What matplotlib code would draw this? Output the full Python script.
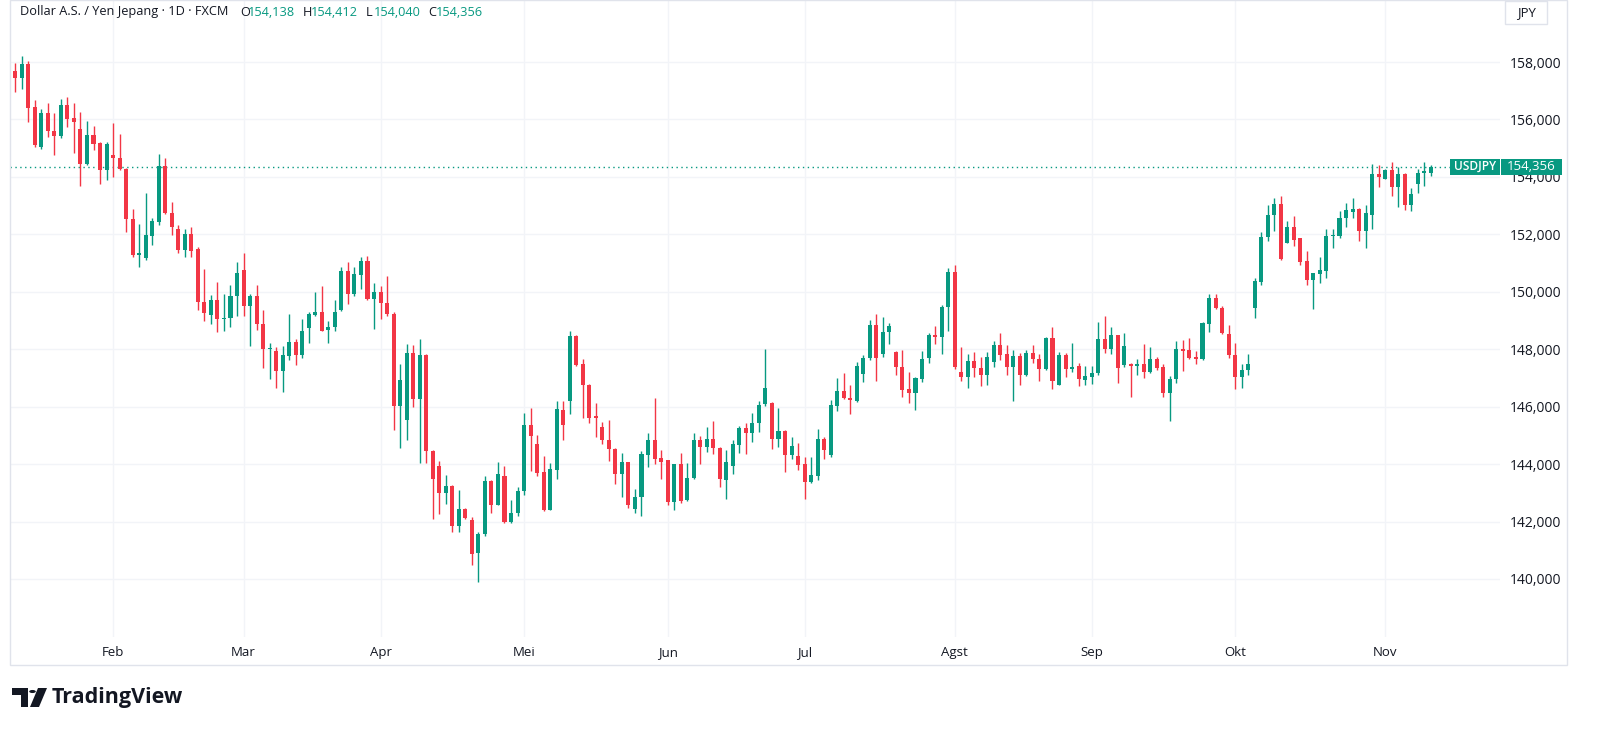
import numpy as np
import pandas as pd
import matplotlib
matplotlib.use("Agg")
import matplotlib.pyplot as plt
from matplotlib.patches import Rectangle, Circle, Polygon

# daily USD/JPY candles, 13 Jan 2025 .. 12 Nov 2025
opens = [
    157.68, 157.45, 157.93, 156.43, 155.04, 156.24, 155.60, 155.42, 156.49, 156.04,
    155.67, 154.45, 155.45, 155.18, 154.24, 154.76, 154.65, 154.28, 152.55, 151.28,
    151.17, 151.94, 152.42, 154.38, 152.76, 152.17, 151.46, 152.00, 151.50, 149.65,
    149.20, 149.70, 149.04, 149.08, 149.84, 150.76, 149.52, 149.84, 148.88, 148.00,
    147.94, 147.25, 147.76, 148.25, 147.79, 148.74, 149.20, 149.29, 148.67, 148.77,
    149.35, 150.73, 149.91, 150.58, 151.08, 149.75, 149.98, 149.61, 149.24, 146.03,
    145.53, 147.88, 146.25, 147.80, 144.46, 143.92, 143.01, 143.25, 141.85, 142.43,
    142.06, 140.89, 141.58, 143.40, 142.58, 143.57, 141.97, 142.29, 143.07, 145.35,
    144.69, 143.71, 142.41, 143.81, 145.90, 146.19, 148.45, 147.49, 146.75, 145.67,
    145.28, 144.85, 144.53, 143.66, 144.06, 142.44, 142.87, 144.32, 144.83, 144.20,
    144.14, 142.67, 144.00, 142.75, 143.51, 144.83, 144.60, 144.88, 144.57, 143.45,
    143.94, 144.67, 145.26, 145.09, 145.43, 146.11, 146.14, 144.88, 145.17, 144.33,
    144.29, 144.00, 143.36, 143.60, 144.88, 144.31, 146.02, 146.54, 146.31, 146.19,
    147.13, 147.68, 148.86, 147.85, 148.59, 147.91, 147.39, 146.60, 146.49, 146.97,
    147.70, 148.50, 148.44, 149.46, 150.70, 147.20, 147.05, 147.59, 147.36, 147.09,
    147.56, 148.13, 147.85, 147.37, 147.76, 147.11, 147.87, 147.65, 147.30, 148.39,
    146.77, 147.79, 147.31, 147.41, 146.93, 147.05, 147.18, 148.34, 148.00, 148.48,
    147.46, 147.48, 147.43, 147.48, 147.20, 147.66, 147.37, 146.48, 146.98, 148.00,
    147.97, 147.74, 147.65, 148.89, 149.80, 149.45, 148.53, 147.80, 147.05, 147.27,
    149.43, 150.34, 151.90, 152.67, 153.07, 151.70, 152.27, 151.86, 151.07, 150.42,
    150.63, 150.73, 151.93, 151.95, 152.56, 152.77, 152.89, 152.10, 152.69, 154.11,
    153.94, 154.25, 153.64, 154.11, 153.03, 153.75, 154.15, 154.138,
]
highs = [
    157.97, 158.20, 158.05, 156.69, 156.36, 156.59, 156.22, 156.72, 156.78, 156.59,
    156.25, 155.95, 155.79, 155.21, 155.21, 155.86, 155.51, 154.30, 152.88, 152.36,
    153.44, 152.56, 154.80, 154.65, 153.14, 152.32, 152.20, 152.27, 151.55, 150.80,
    149.88, 150.35, 149.93, 150.24, 151.02, 151.35, 149.93, 150.22, 149.35, 148.20,
    148.08, 148.11, 149.23, 148.37, 149.04, 149.31, 149.99, 150.20, 148.97, 149.70,
    150.87, 151.02, 150.87, 151.20, 151.25, 150.31, 150.19, 150.56, 149.30, 147.50,
    148.17, 148.14, 148.34, 147.85, 144.50, 144.12, 143.61, 143.28, 143.11, 142.47,
    142.15, 141.65, 143.60, 143.43, 144.06, 143.92, 142.76, 143.20, 145.78, 145.96,
    145.03, 144.29, 144.03, 146.21, 146.19, 148.65, 148.48, 147.66, 146.78, 146.12,
    145.47, 145.53, 144.56, 144.40, 144.08, 143.12, 144.45, 145.10, 146.30, 144.48,
    144.16, 144.02, 144.40, 144.03, 145.10, 144.99, 145.30, 145.50, 144.59, 144.48,
    144.85, 145.34, 145.42, 145.77, 146.19, 148.02, 146.16, 145.97, 145.19, 144.96,
    144.73, 144.25, 144.25, 145.22, 144.94, 146.22, 146.99, 147.17, 146.77, 147.54,
    147.79, 149.03, 149.22, 149.11, 148.91, 147.93, 147.96, 147.22, 147.03, 147.94,
    148.58, 148.81, 149.55, 150.82, 150.93, 148.07, 147.82, 147.90, 147.73, 147.90,
    148.27, 148.55, 148.16, 147.96, 147.87, 147.96, 148.13, 147.82, 148.44, 148.78,
    147.90, 147.87, 148.21, 147.52, 147.43, 147.41, 148.96, 149.15, 148.78, 148.50,
    148.57, 147.52, 147.66, 148.19, 148.08, 147.74, 147.50, 147.07, 148.28, 148.31,
    148.39, 147.95, 148.96, 149.94, 149.94, 149.49, 148.85, 148.23, 147.50, 147.82,
    150.48, 152.07, 153.03, 153.26, 153.32, 152.47, 152.64, 151.88, 151.42, 150.67,
    151.22, 152.18, 152.18, 152.81, 153.09, 153.26, 152.91, 153.03, 154.45, 154.42,
    154.28, 154.51, 154.34, 154.13, 153.60, 154.26, 154.53, 154.412,
]
lows = [
    156.94, 157.06, 155.90, 155.05, 154.96, 155.39, 154.76, 155.34, 155.73, 154.82,
    153.70, 154.42, 154.92, 153.77, 153.90, 153.99, 154.24, 152.07, 151.22, 150.88,
    151.11, 151.62, 152.31, 152.72, 151.97, 151.34, 151.22, 151.22, 149.37, 148.97,
    148.88, 148.59, 148.65, 148.79, 149.15, 149.15, 148.11, 148.67, 147.33, 146.95,
    146.64, 146.50, 147.64, 147.44, 147.70, 148.23, 149.15, 148.62, 148.20, 148.62,
    149.33, 149.58, 149.84, 150.10, 149.70, 148.72, 149.05, 149.16, 145.20, 144.57,
    144.85, 146.00, 144.05, 144.04, 142.08, 142.25, 142.62, 141.65, 141.63, 142.08,
    140.50, 139.90, 141.50, 142.29, 142.56, 141.95, 141.95, 142.18, 142.92, 143.75,
    143.57, 142.37, 142.39, 143.49, 144.85, 145.73, 147.40, 145.62, 145.44, 144.96,
    144.71, 144.11, 143.30, 142.87, 142.47, 142.30, 142.19, 143.89, 144.00, 143.49,
    142.58, 142.41, 142.64, 142.72, 143.49, 144.00, 144.42, 144.34, 143.21, 142.79,
    143.66, 144.37, 144.34, 144.77, 145.11, 146.02, 144.54, 144.59, 143.74, 144.19,
    143.79, 142.77, 143.34, 143.43, 144.19, 144.25, 145.85, 146.25, 145.76, 146.17,
    146.86, 147.62, 146.90, 147.74, 148.19, 147.11, 146.35, 146.12, 145.90, 146.85,
    147.51, 148.19, 147.82, 148.62, 147.30, 146.88, 146.66, 147.03, 146.71, 146.74,
    147.39, 147.62, 147.11, 146.20, 146.77, 147.08, 147.51, 146.88, 147.28, 146.60,
    146.74, 147.02, 147.22, 146.71, 146.75, 146.79, 147.09, 147.88, 147.83, 146.84,
    147.38, 146.34, 147.09, 147.01, 147.18, 147.27, 146.34, 145.50, 146.82, 147.24,
    147.65, 147.50, 147.61, 148.59, 149.41, 148.53, 147.69, 146.62, 146.64, 147.09,
    149.10, 150.25, 151.78, 152.13, 151.10, 151.69, 151.61, 150.93, 150.22, 149.40,
    150.31, 150.48, 151.53, 151.88, 152.26, 152.56, 151.78, 151.53, 152.18, 153.66,
    153.92, 153.32, 152.95, 152.86, 152.83, 153.43, 153.69, 154.040,
]
closes = [
    157.45, 157.94, 156.40, 155.10, 156.24, 155.59, 155.43, 156.49, 156.02, 155.90,
    154.45, 155.45, 155.16, 154.24, 155.14, 154.65, 154.28, 152.53, 151.28, 151.34,
    151.97, 152.46, 154.38, 152.75, 152.25, 151.46, 152.00, 151.43, 149.63, 149.26,
    149.70, 149.04, 149.08, 149.85, 150.65, 149.52, 149.84, 148.88, 148.00, 148.06,
    147.25, 147.79, 148.25, 147.79, 148.64, 149.23, 149.29, 148.65, 148.79, 149.31,
    150.73, 149.93, 150.61, 151.08, 149.75, 149.98, 149.61, 149.22, 146.03, 146.94,
    147.88, 146.25, 147.80, 144.44, 143.47, 142.99, 143.25, 141.85, 142.43, 142.14,
    140.86, 141.57, 143.40, 142.58, 143.66, 141.99, 142.31, 143.07, 145.35, 144.97,
    143.70, 142.40, 143.83, 145.93, 145.36, 148.45, 147.46, 146.75, 145.62, 145.62,
    144.85, 144.51, 143.66, 144.06, 142.56, 142.87, 144.34, 144.83, 144.17, 144.06,
    142.67, 144.00, 142.73, 143.52, 144.83, 144.60, 144.88, 144.57, 143.49, 144.06,
    144.69, 145.26, 145.09, 145.43, 146.05, 146.65, 144.88, 145.17, 144.33, 144.62,
    143.97, 143.36, 143.62, 144.88, 144.48, 146.05, 146.54, 146.29, 146.22, 147.43,
    147.70, 148.86, 147.68, 148.59, 148.82, 147.39, 146.58, 146.49, 147.00, 147.65,
    148.50, 148.44, 149.47, 150.70, 147.37, 147.05, 147.59, 147.34, 147.09, 147.73,
    148.13, 147.81, 147.37, 147.76, 147.09, 147.87, 147.65, 147.31, 148.39, 146.88,
    147.79, 147.31, 147.39, 146.95, 147.07, 147.18, 148.34, 148.00, 148.48, 147.35,
    148.10, 147.43, 147.48, 147.20, 147.66, 147.35, 146.48, 146.98, 148.00, 147.95,
    147.71, 147.65, 148.90, 149.80, 149.43, 148.55, 147.80, 147.05, 147.27, 147.48,
    150.36, 151.90, 152.69, 153.07, 151.13, 152.27, 151.82, 151.05, 150.40, 150.65,
    150.76, 151.93, 151.99, 152.56, 152.86, 152.89, 152.10, 152.73, 154.11, 154.00,
    154.25, 153.64, 154.11, 153.03, 153.41, 154.15, 154.19, 154.356,
]

month_names = ["Feb", "Mar", "Apr", "Mei", "Jun", "Jul", "Agst", "Sep", "Okt", "Nov"]
price_ticks = [140, 142, 144, 146, 148, 150, 152, 154, 156, 158]
title = "Dollar A.S. / Yen Jepang \u00b7 1D \u00b7 FXCM"
symbol = "USDJPY"

UP = "#089981"
DOWN = "#F23645"
TXT = "#131722"
GRID = "#f2f4f8"
BORDER = "#e0e3eb"

plt.rcParams["font.family"] = ["Open Sans", "DejaVu Sans"]

W, H = 1600, 745
fig = plt.figure(figsize=(16, 7.45), dpi=100)


def fx(x):
    return x / W


def fy(y):
    return 1 - y / H


def fmt(v):
    return f"{v:,.3f}".replace(",", " ").replace(".", ",").replace(" ", ".")


ax = fig.add_axes([fx(10), fy(637), (1500 - 10) / W, 637 / H])

o = np.array(opens)
h = np.array(highs)
l = np.array(lows)
c = np.array(closes)
idx = np.arange(len(o))
dates = pd.bdate_range("2025-01-13", periods=len(o))

cols = np.where(c >= o, UP, DOWN)
ax.vlines(idx, l, h, colors=cols, lw=1, zorder=2)
ax.bar(idx, np.maximum(np.abs(c - o), 0.035), bottom=np.minimum(o, c),
       width=0.62, color=cols, linewidth=0, zorder=3)

# last price dotted line
ax.axhline(c[-1], color=UP, lw=1, ls=(0, (1, 2.5)), zorder=1)

# month ticks at first trading day of each month
month_pos = [i for i in range(1, len(dates)) if dates[i].month != dates[i - 1].month]
ax.set_xticks(month_pos)
ax.set_xticklabels(month_names)
ax.set_yticks(price_ticks)
ax.set_yticklabels([fmt(v) for v in price_ticks])
ax.yaxis.tick_right()
ax.tick_params(axis="y", length=0, pad=7, labelsize=10, labelcolor=TXT)
ax.tick_params(axis="x", length=0, pad=6.5, labelsize=9.5, labelcolor=TXT)
ax.grid(True, color=GRID, lw=1)
ax.set_axisbelow(True)
for s in ax.spines.values():
    s.set_visible(False)

ax.set_xlim(-0.8, 227.6)
ax.set_ylim(137.98, 160.16)

# chart frame
fig.add_artist(Rectangle((fx(10), fy(665)), (1567 - 10) / W, 665 / H,
                         transform=fig.transFigure, fill=False, ec=BORDER, lw=1))

# header line
fig.text(fx(20), fy(12), title, fontsize=9.2, color=TXT, va="center")
for lab, val, xp in zip(["O", "H", "L", "C"], [o[-1], h[-1], l[-1], c[-1]], [240, 303, 366, 428]):
    fig.text(fx(xp), fy(12), lab, fontsize=9.2, color=TXT, va="center")
    fig.text(fx(xp + 8), fy(12), fmt(val), fontsize=9.2, color=UP, va="center")

# currency box top right
fig.add_artist(Rectangle((fx(1505), fy(24)), 42 / W, 23 / H, transform=fig.transFigure,
                         fc="white", ec=BORDER, lw=1))
fig.text(fx(1526), fy(12.5), "JPY", fontsize=9.5, color=TXT, ha="center", va="center")

# last price label
ly = 62 + (158 - c[-1]) * 28.72
fig.add_artist(Rectangle((fx(1450), fy(ly + 8)), 50 / W, 16 / H, transform=fig.transFigure,
                         fc=UP, ec="none", zorder=5))
fig.add_artist(Rectangle((fx(1501), fy(ly + 8)), 61 / W, 16 / H, transform=fig.transFigure,
                         fc=UP, ec="none", zorder=5))
fig.text(fx(1475), fy(ly), symbol, fontsize=8.6, color="white", ha="center", va="center",
         fontweight="semibold", zorder=6)
fig.text(fx(1531), fy(ly), fmt(c[-1]), fontsize=9.5, color="white", ha="center", va="center",
         zorder=6)

# TradingView logo
fig.add_artist(Polygon([(fx(12), fy(688)), (fx(28), fy(688)), (fx(28), fy(707)),
                        (fx(21), fy(707)), (fx(21), fy(695)), (fx(12), fy(695))],
                       closed=True, transform=fig.transFigure, fc=TXT, ec="none"))
fig.add_artist(Circle((fx(32.5), fy(691.5)), 3.3 / W, transform=fig.transFigure,
                      fc=TXT, ec="none"))
fig.add_artist(Polygon([(fx(38), fy(688)), (fx(47), fy(688)), (fx(39), fy(707)),
                        (fx(30), fy(707))],
                       closed=True, transform=fig.transFigure, fc=TXT, ec="none"))
fig.text(fx(52), fy(698), "TradingView", fontsize=15.5, fontweight="bold", color=TXT, va="center")

fig.savefig("out.png", dpi=100, facecolor="white")
